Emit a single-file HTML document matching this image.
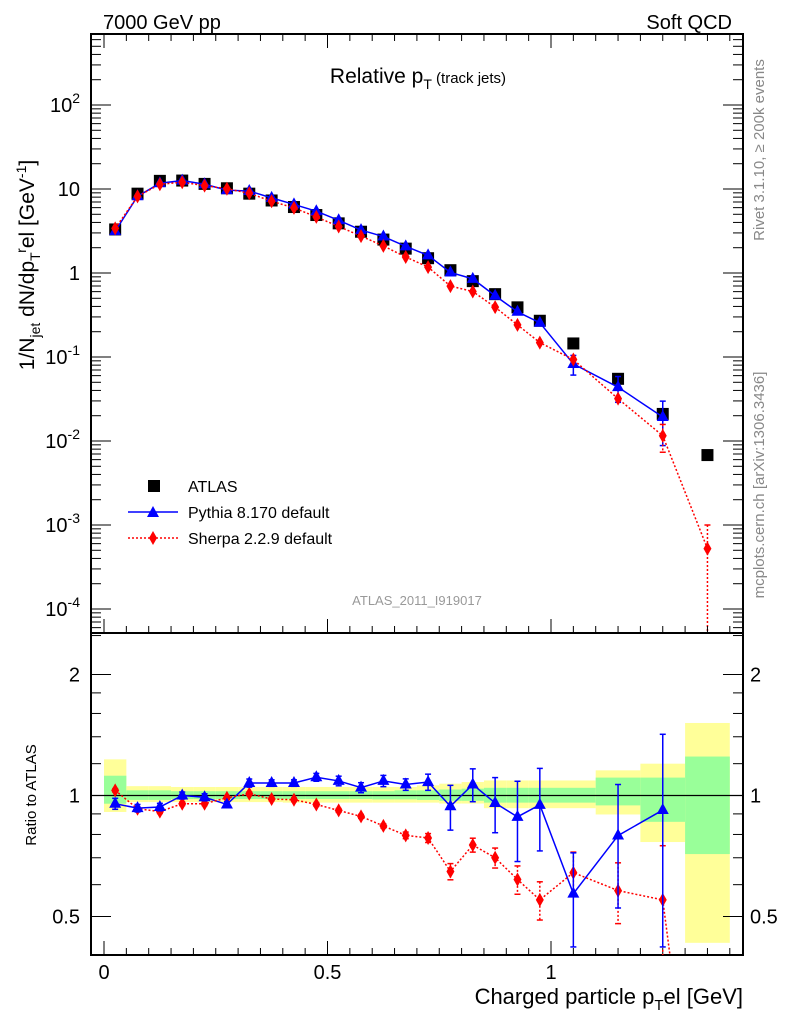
<!DOCTYPE html>
<html><head><meta charset="utf-8">
<style>
html,body{margin:0;padding:0;background:#fff;width:786px;height:1024px;overflow:hidden;}
svg{display:block;font-family:"Liberation Sans",sans-serif;}
</style></head>
<body>
<svg id="chart" width="786" height="1024" viewBox="0 0 786 1024" xmlns="http://www.w3.org/2000/svg">
<text x="103" y="29" font-size="20">7000 GeV pp</text>
<text x="732" y="29" font-size="20" text-anchor="end">Soft QCD</text>
<text x="418" y="83" font-size="21" text-anchor="middle">Relative p<tspan font-size="14" dy="6">T</tspan><tspan font-size="15" dy="-6"> (track jets)</tspan></text>
<text transform="translate(764,150) rotate(-90)" font-size="15" fill="#888" text-anchor="middle">Rivet 3.1.10, ≥ 200k events</text>
<text transform="translate(764,485) rotate(-90)" font-size="15" fill="#888" text-anchor="middle">mcplots.cern.ch [arXiv:1306.3436]</text>
<text x="417" y="605" font-size="13" fill="#999" text-anchor="middle">ATLAS_2011_I919017</text>
<text transform="translate(34,265) rotate(-90)" font-size="21" text-anchor="middle">1/N<tspan font-size="14" dy="6">jet</tspan><tspan dy="-6"> dN/dp</tspan><tspan font-size="14" dy="6">T</tspan><tspan font-size="14" dy="-14">r</tspan><tspan dy="8">el [GeV</tspan><tspan font-size="14" dy="-8">-1</tspan><tspan dy="8">]</tspan></text>
<text transform="translate(36,795) rotate(-90)" font-size="15" text-anchor="middle">Ratio to ATLAS</text>
<text x="743" y="1004" font-size="22" text-anchor="end">Charged particle p<tspan font-size="15" dy="6">T</tspan><tspan dy="-6">el [GeV]</tspan></text>
<g id="bands"></g><g id="marks"></g><g id="axes"></g>
<g>
<rect x="148" y="480" width="12" height="12" fill="#000"/>
<text x="188" y="492" font-size="16">ATLAS</text>
<line x1="128" y1="512" x2="178" y2="512" stroke="#00f" stroke-width="1.5"/>
<polygon points="153,506 159,517 147,517" fill="#00f"/>
<text x="188" y="518" font-size="16">Pythia 8.170 default</text>
<line x1="128" y1="538" x2="178" y2="538" stroke="#f00" stroke-width="1.5" stroke-dasharray="2,2"/>
<polygon points="153,531 157,538 153,545 149,538" fill="#f00"/>
<text x="188" y="544" font-size="16">Sherpa 2.2.9 default</text>
</g>
</svg>
<script>
const binLo=[0,0.05,0.1,0.15,0.2,0.25,0.3,0.35,0.4,0.45,0.5,0.55,0.6,0.65,0.7,0.75,0.8,0.85,0.9,0.95,1.0,1.1,1.2,1.3];
const binHi=[0.05,0.1,0.15,0.2,0.25,0.3,0.35,0.4,0.45,0.5,0.55,0.6,0.65,0.7,0.75,0.8,0.85,0.9,0.95,1.0,1.1,1.2,1.3,1.4];
const atlas=[3.3,8.8,12.5,12.6,11.5,10.2,8.8,7.3,6.1,4.9,3.9,3.1,2.5,1.95,1.5,1.08,0.8,0.56,0.39,0.27,0.145,0.055,0.021,0.0068];
const pythiaRatio=[0.954,0.93,0.936,1.0,0.99,0.95,1.074,1.074,1.074,1.11,1.087,1.046,1.087,1.065,1.08,0.94,1.065,0.958,0.885,0.948,0.57,0.795,0.92];
const pythiaRatioErr=[0.03,0.02,0.02,0.02,0.02,0.015,0.025,0.02,0.02,0.025,0.03,0.03,0.035,0.035,0.05,0.12,0.1,0.15,0.2,0.22,0.15,0.27,0.5];
const sherpaRatio=[1.03,0.927,0.912,0.954,0.954,0.987,1.01,0.98,0.976,0.95,0.918,0.887,0.84,0.796,0.784,0.647,0.753,0.70,0.618,0.55,0.643,0.58,0.55,0.077];
const sherpaRatioErr=[0.01,0.01,0.01,0.01,0.01,0.01,0.01,0.01,0.01,0.01,0.01,0.01,0.01,0.015,0.02,0.03,0.03,0.04,0.05,0.06,0.08,0.1,0.2,0.07];
const yellowUp=[1.23,1.055,1.055,1.05,1.05,1.05,1.05,1.05,1.05,1.05,1.05,1.05,1.05,1.05,1.06,1.07,1.08,1.09,1.09,1.09,1.09,1.155,1.2,1.515];
const yellowDn=[0.91,0.963,0.963,0.963,0.963,0.963,0.963,0.963,0.96,0.96,0.96,0.96,0.96,0.96,0.96,0.955,0.955,0.93,0.93,0.93,0.93,0.897,0.766,0.43];
const greenUp=[1.12,1.03,1.03,1.025,1.025,1.025,1.025,1.025,1.025,1.025,1.025,1.025,1.025,1.03,1.03,1.035,1.04,1.045,1.045,1.045,1.045,1.108,1.108,1.25];
const greenDn=[0.954,0.975,0.975,0.98,0.98,0.98,0.98,0.98,0.98,0.98,0.98,0.98,0.978,0.978,0.975,0.97,0.97,0.96,0.96,0.96,0.96,0.945,0.86,0.715];
const xTicks=[0,0.5,1];
const xTickLabels=["0","0.5","1"];
const yExps=[-4,-3,-2,-1,0,1,2];
const ratioTicks=[0.5,1,2];

const NS="http://www.w3.org/2000/svg";
const L=91,R=743,T=34,MB=633,RB=955;
const X=v=>104+447*v;
const Y=v=>189-84*(Math.log10(v)-1);
const RY=v=>795.5-121*Math.log2(v);
function el(p,t,a){const e=document.createElementNS(NS,t);for(const k in a)e.setAttribute(k,a[k]);p.appendChild(e);return e;}
const bands=document.getElementById('bands'),marks=document.getElementById('marks'),axes=document.getElementById('axes');
const clipDef=el(document.getElementById('chart'),'defs',{});
const c1=el(clipDef,'clipPath',{id:'cm'});el(c1,'rect',{x:L,y:T,width:R-L,height:MB-T});
const c2=el(clipDef,'clipPath',{id:'cr'});el(c2,'rect',{x:L,y:MB,width:R-L,height:RB-MB});
marks.setAttribute('clip-path','url(#cm)');
const rmarks=el(document.getElementById('chart'),'g',{'clip-path':'url(#cr)'});


bands.setAttribute('clip-path','url(#cr)');
for(let i=0;i<binLo.length;i++){
  const y=el(bands,'rect',{x:X(binLo[i]),y:RY(yellowUp[i]),width:X(binHi[i])-X(binLo[i]),height:RY(yellowDn[i])-RY(yellowUp[i]),fill:'#ffff99'});
  
  
  const g=el(bands,'rect',{x:X(binLo[i]),y:RY(greenUp[i]),width:X(binHi[i])-X(binLo[i]),height:RY(greenDn[i])-RY(greenUp[i]),fill:'#99ff99'});
  
  
}
el(bands,'line',{x1:L,x2:R,y1:RY(1),y2:RY(1),stroke:'#000','stroke-width':1.2});
const cx=binLo.map((l,i)=>(l+binHi[i])/2);
function tri(g,x,y,c){return el(g,'polygon',{points:`${x},${y-7} ${x+6},${y+4} ${x-6},${y+4}`,fill:c});}
function dia(g,x,y,c){return el(g,'polygon',{points:`${x},${y-7} ${x+4},${y} ${x},${y+7} ${x-4},${y}`,fill:c});}
function errbar(g,x,y1,y2,c,d){const a={x1:x,x2:x,y1:y1,y2:y2,stroke:c,'stroke-width':1.5};if(d)a['stroke-dasharray']='2,2';el(g,'line',a);el(g,'line',{x1:x-3,x2:x+3,y1:y1,y2:y1,stroke:c,'stroke-width':1.5});el(g,'line',{x1:x-3,x2:x+3,y1:y2,y2:y2,stroke:c,'stroke-width':1.5});}
let ps='',ss='';
pythiaRatio.forEach((r,i)=>{ps+=(i?'L':'M')+X(cx[i])+','+Y(atlas[i]*r);});
sherpaRatio.forEach((r,i)=>{ss+=(i?'L':'M')+X(cx[i])+','+Y(atlas[i]*r);});
atlas.forEach((v,i)=>{const r=el(marks,'rect',{x:X(cx[i])-6,y:Y(v)-6,width:12,height:12,fill:'#000'});

});
const pl=el(marks,'path',{d:ps,fill:'none',stroke:'#00f','stroke-width':1.5});


const sl=el(marks,'path',{d:ss,fill:'none',stroke:'#f00','stroke-width':1.5,'stroke-dasharray':'2,2'});


pythiaRatio.forEach((r,i)=>{const v=atlas[i]*r,e=pythiaRatioErr[i]*atlas[i];
 if(i>=20)errbar(marks,X(cx[i]),Y(v+e),Y(Math.max(v-e,1e-6)),'#00f');
 const m=tri(marks,X(cx[i]),Y(v),'#00f');
 
 });
sherpaRatio.forEach((r,i)=>{const v=atlas[i]*r,e=sherpaRatioErr[i]*atlas[i];
 if(i>=22)errbar(marks,X(cx[i]),Y(v+e),Y(Math.max(v-e,1e-8)),'#f00',true);
 const m=dia(marks,X(cx[i]),Y(v),'#f00');
 
 });
let rp='',rs='';
pythiaRatio.forEach((r,i)=>{rp+=(i?'L':'M')+X(cx[i])+','+RY(r);});
sherpaRatio.forEach((r,i)=>{rs+=(i?'L':'M')+X(cx[i])+','+RY(r);});
el(rmarks,'path',{d:rp,fill:'none',stroke:'#00f','stroke-width':1.5});
el(rmarks,'path',{d:rs,fill:'none',stroke:'#f00','stroke-width':1.5,'stroke-dasharray':'2,2'});
sherpaRatio.forEach((r,i)=>{errbar(rmarks,X(cx[i]),RY(r+sherpaRatioErr[i]),RY(Math.max(r-sherpaRatioErr[i],0.01)),'#f00',true);
 const m=dia(rmarks,X(cx[i]),RY(r),'#f00');
 
 });
pythiaRatio.forEach((r,i)=>{errbar(rmarks,X(cx[i]),RY(r+pythiaRatioErr[i]),RY(Math.max(r-pythiaRatioErr[i],0.01)),'#00f');
 const m=tri(rmarks,X(cx[i]),RY(r),'#00f');
 
 });
el(axes,'rect',{x:L,y:T,width:R-L,height:MB-T,fill:'none',stroke:'#000','stroke-width':2});
el(axes,'rect',{x:L,y:MB,width:R-L,height:RB-MB,fill:'none',stroke:'#000','stroke-width':2});
for(let k=0;k<=28;k++){const v=k*0.05,x=X(v);if(x>R)break;const big=(k%10===0),len=big?14:7;
 el(axes,'line',{x1:x,x2:x,y1:MB,y2:MB-len,stroke:'#000'});el(axes,'line',{x1:x,x2:x,y1:T,y2:T+len,stroke:'#000'});
 el(axes,'line',{x1:x,x2:x,y1:RB,y2:RB-len,stroke:'#000'});}
xTicks.forEach((v,i)=>{const t=el(axes,'text',{x:X(v),y:979,'font-size':20,'text-anchor':'middle'});t.textContent=xTickLabels[i];
 
 });
for(let e=-5;e<=2;e++){for(let m=1;m<10;m++){const v=m*Math.pow(10,e),y=Y(v);if(y<T||y>MB)continue;const len=m===1?20:10;
 el(axes,'line',{x1:L,x2:L+len,y1:y,y2:y,stroke:'#000'});el(axes,'line',{x1:R,x2:R-len,y1:y,y2:y,stroke:'#000'});}}
yExps.forEach(e=>{const y=Y(Math.pow(10,e));const t=el(axes,'text',{x:80,y:y+7,'font-size':20,'text-anchor':'end'});
 if(e===0)t.textContent='1';else if(e===1)t.textContent='10';else{t.textContent='10';const s=el(t,'tspan',{dy:-9,'font-size':14});s.textContent=String(e);}
 
 });
[0.5,0.6,0.7,0.8,0.9,1,1.2,1.4,1.6,1.8,2,2.5].forEach(v=>{const y=RY(v);if(y<MB||y>RB)return;const big=ratioTicks.includes(v),len=big?20:10;
 el(axes,'line',{x1:L,x2:L+len,y1:y,y2:y,stroke:'#000'});el(axes,'line',{x1:R,x2:R-len,y1:y,y2:y,stroke:'#000'});});
ratioTicks.forEach(v=>{const y=RY(v);
 const t=el(axes,'text',{x:80,y:y+7,'font-size':20,'text-anchor':'end'});t.textContent=String(v);
 
 
 const t2=el(axes,'text',{x:750,y:y+7,'font-size':20});t2.textContent=String(v);
 
 });
</script>
</body></html>
